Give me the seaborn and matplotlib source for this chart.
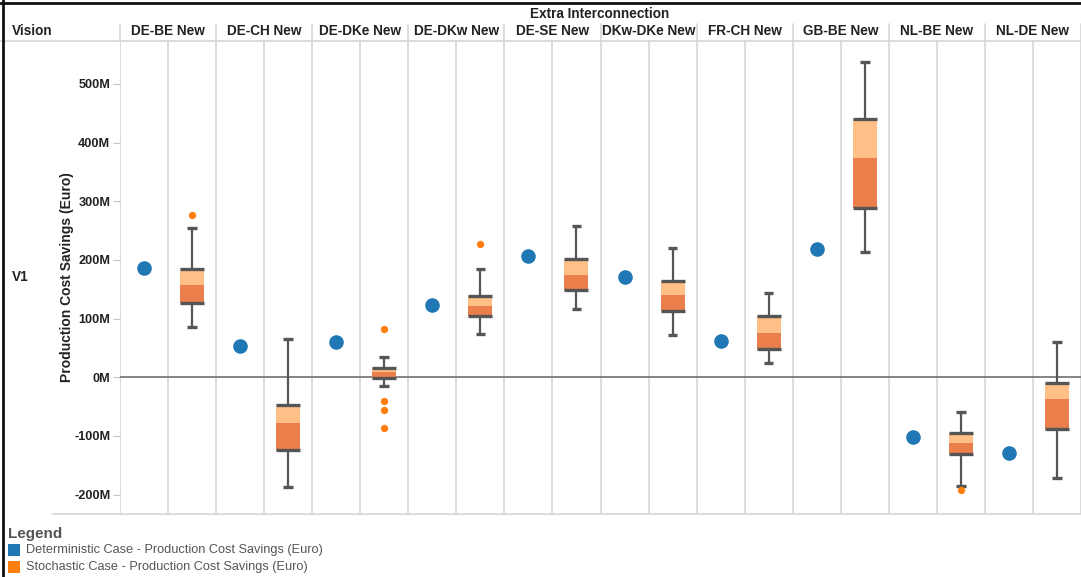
import numpy as np
import pandas as pd
import matplotlib
matplotlib.use("Agg")
import matplotlib.pyplot as plt
from matplotlib.lines import Line2D
from matplotlib.patches import Rectangle
import seaborn as sns

# ---- data (million Euro) ----
links = ["DE-BE New", "DE-CH New", "DE-DKe New", "DE-DKw New", "DE-SE New",
         "DKw-DKe New", "FR-CH New", "GB-BE New", "NL-BE New", "NL-DE New"]
deterministic = [187, 54, 60, 123, 206, 171, 61, 218, -102, -129]
whisker_low = [86, -187, -15, 74, 116, 71.5, 25, 213.5, -184.6, -171]
q1 = [127, -124, -1, 105, 149, 113.5, 48.7, 289, -130.7, -89]
median = [157, -78.6, 8.5, 121.5, 174, 140, 75.5, 373.5, -112, -37]
q3 = [184.5, -47, 16.4, 139, 201.5, 164.5, 104, 440, -95, -9]
whisker_high = [254, 66, 34.6, 184, 258, 221, 143, 537, -60, 60]
outliers = [[277], [], [82, -40.5, -55, -87], [227.6], [], [], [], [], [-191.5], []]
y_ticks = [-200, -100, 0, 100, 200, 300, 400, 500]

BLUE = "#1f77b4"
ORANGE = "#ff7f0e"
BOX_LIGHT = "#ffbf86"
BOX_DARK = "#eb7f4b"
LINE_GRAY = "#555555"
GRID = "#d6d6d6"
TEXT = "#222222"

sns.set_theme(style="white")
plt.rcParams["font.family"] = ["Liberation Sans", "DejaVu Sans"]

W, H = 1081, 577
fig = plt.figure(figsize=(W / 100, H / 100), dpi=100)
ax_left, ax_right, ax_top, ax_bottom = 120, 1081, 41, 514
ax = fig.add_axes([ax_left / W, 1 - ax_bottom / H,
                   (ax_right - ax_left) / W, (ax_bottom - ax_top) / H])

n = len(links)
det_x = np.arange(n) * 2.0
sto_x = det_x + 1.0

det_df = pd.DataFrame({"x": det_x, "value": deterministic})
out_df = pd.DataFrame([(sto_x[i], v) for i, vals in enumerate(outliers) for v in vals],
                      columns=["x", "value"])

# gridlines: column boundaries and sub-column dividers
for b in np.arange(0, 2 * n + 1) - 0.5:
    ax.axvline(b, color=GRID, lw=1.2, zorder=0)
ax.axhline(0, color="#707070", lw=1.2, zorder=1)

# box bodies: light upper half, dark lower half
box_w = 0.5
ax.bar(sto_x, np.array(q3) - np.array(median), bottom=median, width=box_w,
       color=BOX_LIGHT, linewidth=0, zorder=2)
ax.bar(sto_x, np.array(median) - np.array(q1), bottom=q1, width=box_w,
       color=BOX_DARK, linewidth=0, zorder=2)
ax.hlines(q1, sto_x - box_w / 2, sto_x + box_w / 2, color=LINE_GRAY, lw=2.4, zorder=3)
ax.hlines(q3, sto_x - box_w / 2, sto_x + box_w / 2, color=LINE_GRAY, lw=2.4, zorder=3)

# whiskers with caps
ax.vlines(sto_x, whisker_high, q3, color=LINE_GRAY, lw=1.6, zorder=2)
ax.vlines(sto_x, q1, whisker_low, color=LINE_GRAY, lw=1.6, zorder=2)
cap = 0.1
ax.hlines(whisker_high, sto_x - cap, sto_x + cap, color=LINE_GRAY, lw=2.4, zorder=3)
ax.hlines(whisker_low, sto_x - cap, sto_x + cap, color=LINE_GRAY, lw=2.4, zorder=3)

# points
sns.scatterplot(data=out_df, x="x", y="value", color=ORANGE, s=28,
                linewidth=0, ax=ax, zorder=4)
sns.scatterplot(data=det_df, x="x", y="value", color=BLUE, s=110,
                linewidth=0, ax=ax, zorder=4)

ax.set_xlim(-0.5, 2 * n - 0.5)
ax.set_ylim(-233, 573)
ax.set_xticks([])
ax.set_yticks(y_ticks)
ax.set_yticklabels([f"{t}M" for t in y_ticks], fontsize=9.2, fontweight="bold", color=TEXT)
ax.tick_params(axis="y", length=5, width=0.8, color="#c4c4c4", pad=2, left=True)
ax.set_xlabel("")
ax.set_ylabel("Production Cost Savings (Euro)", fontsize=10, fontweight="bold", color=TEXT)
ax.yaxis.set_label_coords((74 - ax_left) / (ax_right - ax_left), 0.5)
for s in ax.spines.values():
    s.set_visible(False)

# header: column names and separators
tx = ax.get_xaxis_transform()
for i, name in enumerate(links):
    ax.text(det_x[i] + 0.5, 1 + 10 / 473, name, transform=tx, ha="center",
            va="center", fontsize=9.8, fontweight="bold", color=TEXT, clip_on=False)
for b in np.arange(0, n + 1) * 2 - 0.5:
    ax.plot([b, b], [1, 1 + 17 / 473], transform=tx, color=GRID, lw=1.2, clip_on=False)

fig.text(600 / W, 1 - 14 / H, "Extra Interconnection", ha="center", va="center",
         fontsize=9.8, fontweight="bold", color=TEXT)
fig.text(12 / W, 1 - 31 / H, "Vision", ha="left", va="center",
         fontsize=9.8, fontweight="bold", color=TEXT)
fig.text(12 / W, 1 - 277 / H, "V1", ha="left", va="center",
         fontsize=9.8, fontweight="bold", color=TEXT)

# frame and header rules
fig.add_artist(Line2D([0, 1], [1 - 41 / H] * 2, color=GRID, lw=1.2))
fig.add_artist(Line2D([53 / W, 1], [1 - 514 / H] * 2, color=GRID, lw=1.2))
fig.add_artist(Line2D([3 / W, 3 / W], [0, 1], color="#111111", lw=2))
fig.add_artist(Line2D([0, 1], [1 - 3 / H] * 2, color="#111111", lw=2))

# legend
fig.text(8 / W, 1 - 534 / H, "Legend", ha="left", va="center",
         fontsize=11, fontweight="bold", color="#555555")
for k, (label, col) in enumerate([
        ("Deterministic Case - Production Cost Savings (Euro)", BLUE),
        ("Stochastic Case - Production Cost Savings (Euro)", ORANGE)]):
    yc = 550 + k * 17
    fig.add_artist(Rectangle((8 / W, 1 - (yc + 6) / H), 12 / W, 12 / H,
                             transform=fig.transFigure, color=col, lw=0))
    fig.text(26 / W, 1 - yc / H, label, ha="left", va="center",
             fontsize=9.2, color="#555555")

fig.savefig("out.png", dpi=100)
